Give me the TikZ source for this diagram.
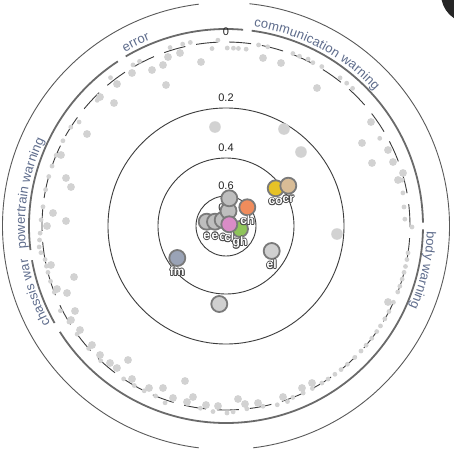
\documentclass[tikz,border=0pt]{standalone}
\usepackage{fontspec}
\setmainfont{Liberation Sans}
\usetikzlibrary{positioning,decorations.text}

\definecolor{ringgray}{HTML}{3C3C3C}
\definecolor{rimline}{HTML}{5A5A5A}
\definecolor{arcgray}{HTML}{6A6A6A}
\definecolor{dotgray}{HTML}{D2D2D2}
\definecolor{catblue}{HTML}{5E6C8C}
\definecolor{lvlink}{HTML}{222222}
\definecolor{rimgray}{HTML}{7A7A7A}
\definecolor{tagedge}{HTML}{4A4A4A}
\definecolor{nodegray}{HTML}{BEBEBE}
\definecolor{palegray}{HTML}{D0D0D0}
\definecolor{chorange}{HTML}{F08C5C}
\definecolor{ghgreen}{HTML}{8FC45A}
\definecolor{clpink}{HTML}{D98CC6}
\definecolor{coyellow}{HTML}{E6C226}
\definecolor{crtan}{HTML}{D8BC96}
\definecolor{fmblue}{HTML}{9AA3B6}

% white text with a dark rim
\newcommand{\devhalo}[1]{\setbox0\hbox{#1}%
  \rlap{\color{tagedge}\kern-0.8pt\copy0}%
  \rlap{\color{tagedge}\kern0.8pt\copy0}%
  \rlap{\color{tagedge}\raise0.8pt\copy0}%
  \rlap{\color{tagedge}\lower0.8pt\copy0}%
  \rlap{\color{tagedge}\kern-0.6pt\raise0.6pt\copy0}%
  \rlap{\color{tagedge}\kern0.6pt\raise0.6pt\copy0}%
  \rlap{\color{tagedge}\kern-0.6pt\lower0.6pt\copy0}%
  \rlap{\color{tagedge}\kern0.6pt\lower0.6pt\copy0}%
  \copy0}

\begin{document}
\begin{tikzpicture}[x=1pt, y=1pt,
    level/.style={draw=ringgray, line width=0.9pt},
    catarc/.style={draw=arcgray, line width=1.8pt},
    cattext/.style={decorate, decoration={text along path, raise=4pt,
        text align={left indent=1.5pt}, text color=catblue,
        text={|\fontsize{13}{15}\selectfont|#1}}},
    lvltext/.style={text=lvlink, font=\fontsize{11}{13}\selectfont, inner sep=0pt},
    sensor/.style={circle, draw=rimgray, line width=1.8pt, minimum size=16pt, inner sep=0pt},
    devtag/.style={text=white, font=\fontsize{12}{12}\selectfont\bfseries, inner sep=0.5pt,
        text height=8pt, text depth=2pt}]

\useasboundingbox (-226,-230) rectangle (228,226);
\fill[white] (-226,-230) rectangle (228,226);

% -------- outer rim and category arcs -----------
\draw[rimline, line width=0.9pt] (97:223.5) arc[start angle=97, end angle=263, radius=223.5];
\draw[rimline, line width=0.9pt] (277:223.5) arc[start angle=277, end angle=444, radius=223.5];

\draw[catarc] (82.5:197) arc[start angle=82.5, end angle=1, radius=197];
\draw[catarc] (-1:197) arc[start angle=-1, end angle=-147.5, radius=197];
\draw[catarc] (209.5:197) arc[start angle=209.5, end angle=190, radius=197];
\draw[catarc] (187:197) arc[start angle=187, end angle=123.3, radius=197];
\draw[catarc] (120.6:197) arc[start angle=120.6, end angle=85, radius=197];

\path[cattext={communication warning}] (82.5:197) arc[start angle=82.5, end angle=1, radius=197];
\path[cattext={body warning}] (-1:197) arc[start angle=-1, end angle=-147.5, radius=197];
\path[cattext={chassis war}] (209.5:197) arc[start angle=209.5, end angle=189, radius=197];
\path[cattext={powertrain warning}] (187:197) arc[start angle=187, end angle=123.3, radius=197];
\path[cattext={error}] (120.6:197) arc[start angle=120.6, end angle=85, radius=197];

% -------- level circles -----------
\draw[level, dash pattern=on 22pt off 11pt] (0,0) circle[radius=184];
\draw[level] (0,0) circle[radius=118];
\draw[level] (0,0) circle[radius=68];
\draw[level] (0,0) circle[radius=30];

\node[lvltext] (lvl0)  at (0,194) {0};
\node[lvltext] (lvl02) at (0,128) {0.2};
\node[lvltext] (lvl04) at (0,78)  {0.4};
\node[lvltext] (lvl06) at (0,40)  {0.6};
\node[lvltext] (lvl08) at (0,18)  {0.8};

% -------- dots on the zero ring -----------
\foreach \a/\r in {-8.4/184,-10.5/184,-12.7/184,-14.6/184,-16.8/184,-19.1/184,-21/184,
    -24.5/184,-27.7/184,-30.3/184,-32.9/184,-35/184,-37.6/184,-40.4/184,-42.8/184,
    -45.6/184,-48.7/184,-51.3/184,-53.7/184,-56.3/184,-58.6/184,-62/184,-65.2/184,
    -68.7/184,-70.7/186,-74/186,-78.4/184,-83.5/184,-87.8/186,-89.7/187,-94/186,
    -98/184,-109/187,-112.5/184,-116.4/184,-119.9/184,-123.8/184,-128/180,-132.9/184,
    -138.3/184,-144/184,-148.6/184,-152.9/186,-158.9/184,-162.5/184,-165.4/184,
    -167.4/184,-169.5/184,-171.8/187,-173.6/188,-175.7/187,-177.8/186,178.1/185,
    174/184,168.6/184,164.4/184,161/184,157.4/184,152.4/184,147.5/184,144.7/180,
    135.7/180,127.9/188,120/186,117.7/186,107.4/187,103.4/187,101/187,94.5/178,
    92.5/186,89.6/178,87.6/178,86/178,83.5/178,79.8/184,76.9/184,68.8/185,66.6/185,
    63.8/186,62/185,59/186,52.4/187,49.8/187,47.4/187,35.6/178,29.7/177,25/178,
    14.6/182,10.6/180,6.1/179,2.2/179,-0.3/186}
  \fill[dotgray] (\a:\r) circle[radius=2.4];

% -------- scattered dots and devices, pixel grid -----------
\begin{scope}[x=1pt, y=-1pt, shift={(-226,-226)}]
\fill[black!85] (470,-6) circle[radius=29pt];

\foreach \px/\py in {201/62,166/85,152/70,163/65,180/53,168/57,263/58,281/63,317/88,
    114/103,87/134,132/73,117/84,100/97,61/155,362/143,372/163,371/122,388/150,
    393/162,403/173,398/180,388/302,66/178,71/187,53/213,66/221,47/226,51/265,
    74/277,57/289,67/293,75/311,71/320,80/330,92/345,100/355,110/363,128/360,
    117/368,132/379,149/388,163/388,173/398,185/381,193/397,187/402,206/405,
    218/406,238/399,245/404,258/403,283/397,302/388,312/383}
  \fill[dotgray] (\px,\py) circle[radius=3.9pt];
\foreach \px/\py in {215/127,284/129,301/152,337/234}
  \fill[dotgray] (\px,\py) circle[radius=5.8pt];

\node[sensor, fill=nodegray] (ga) at (206.7,221.7) {};
\node[sensor, fill=nodegray] (gb) at (215,221.7) {};
\node[sensor, fill=nodegray] (gc) at (222.7,220) {};
\node[sensor, fill=nodegray] (gd) at (228.5,211) {};
\node[sensor, fill=nodegray] (ge) at (229.3,198.3) {};
\node[sensor, fill=chorange] (ch) at (247.3,207.3) {};
\node[sensor, fill=ghgreen]  (gh) at (240,229) {};
\node[sensor, fill=clpink]   (cl) at (229.3,224.3) {};
\node[sensor, fill=coyellow] (co) at (275.7,188.3) {};
\node[sensor, fill=crtan]    (cr) at (288.3,185.7) {};
\node[sensor, fill=fmblue]   (fm) at (177.3,258) {};
\node[sensor, fill=palegray] (el) at (271.7,251) {};
\node[sensor, fill=palegray] (gf) at (219.3,304) {};

\node[devtag, below=0pt of ga] (ga-tag) {\devhalo{e}};
\node[devtag, below=0pt of gb] (gb-tag) {\devhalo{e}};
\node[devtag, below=3pt of gc] (gc-tag) {\devhalo{c}};
\node[devtag, below=0pt of cl] (cl-tag) {\devhalo{cl}};
\node[devtag, below=-1pt of gh] (gh-tag) {\devhalo{gh}};
\node[devtag, below=0pt of ch] (ch-tag) {\devhalo{ch}};
\node[devtag, below=-1pt of co] (co-tag) {\devhalo{co}};
\node[devtag, below=-1pt of cr] (cr-tag) {\devhalo{cr}};
\node[devtag, below=0pt of fm] (fm-tag) {\devhalo{fm}};
\node[devtag, below=0pt of el] (el-tag) {\devhalo{el}};
\end{scope}
\end{tikzpicture}
\end{document}
